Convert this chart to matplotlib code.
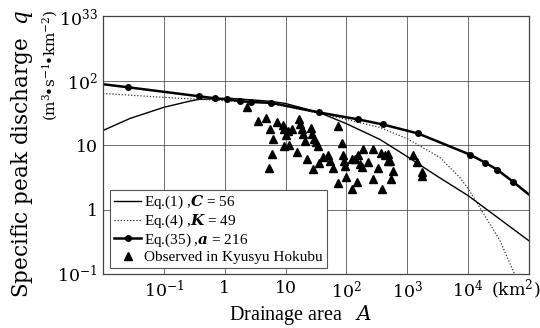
import numpy as np
import matplotlib
matplotlib.use("Agg")
import matplotlib.pyplot as plt

plt.rcParams['font.family'] = ['DejaVu Serif']
plt.rcParams['mathtext.fontset'] = 'dejavuserif'

# curves (drainage area km2, specific discharge)
eq1_area = [0.01, 0.0278, 0.1, 0.27, 0.38, 1.22, 5.8, 10, 35.4, 100, 355, 1000, 3000, 1e4, 1e5]
eq1_q = [16.8, 25.8, 38.4, 48, 51, 53, 47.5, 44, 32, 21.4, 12.2, 6.6, 3.35, 1.64, 0.327]

eq4_area = [0.01, 0.1, 0.38, 1.8, 5.8, 35.4, 100, 355, 1000, 3440, 7340, 1e4, 15700, 33300, 58900]
eq4_q = [63, 54.8, 51, 47, 44, 31, 25, 18.7, 12.5, 6.4, 3.12, 2.1, 1.06, 0.33, 0.096]

eq35_area = [0.01, 0.0258, 0.377, 0.69, 1.09, 1.78, 2.7, 5.8, 35.4, 155, 398, 1500,
             10700, 18900, 29800, 54600, 1e5]
eq35_q = [87.5, 78.5, 57, 53, 51, 48, 46.5, 45, 32, 25, 20.8, 15.1,
          7.1, 5.35, 4.16, 2.7, 1.70]

# observed basins, Kyusyu Hokubu
obs_area = [2.3, 3.5, 4.8, 5.5, 7.3, 6.1, 9.2, 9.5, 10.2, 11.1, 12.6, 9.5, 11.5,
            16.4, 17.3, 18.4, 19.6, 20.8, 26.2, 27.5, 29.6, 31.3, 34.5, 5.9, 5.3,
            15.6, 22.2, 28.5, 35.4, 41.7, 50.4, 53.7, 60.8, 73.4, 85.5, 88.8, 92.2,
            94.7, 97.2, 73.4, 122, 147, 122, 138, 157, 167, 189, 223, 276, 334, 370,
            430, 477, 488, 520, 576, 540, 276, 379, 1256, 1420, 1725, 1760, 178]
obs_q = [38.7, 23.2, 26.1, 17.4, 22.6, 12.5, 20.6, 17.4, 14.4, 16.2, 17.4, 9.8, 10.1,
         25.6, 21.4, 17.9, 14.9, 11.7, 18.2, 14.9, 12.5, 11.1, 9.8, 7.3, 4.4,
         7.7, 6.1, 4.3, 5.3, 6.5, 6.9, 5.7, 4.4, 19.6, 10.8, 6.9, 5.7,
         4.8, 3.2, 2.6, 2.1, 2.7, 6.1, 6.1, 6.9, 5.1, 8.7, 5.4, 8.7, 4.4, 7.6,
         6.9, 7.3, 5.7, 5.7, 4.0, 3.0, 3.0, 2.1, 6.9, 5.5, 3.8, 3.3, 4.5]

x_ticks = [0.1, 1, 10, 100, 1000, 1e4]
x_labels = [r"$10^{-1}$", "1", "10", r"$10^{2}$", r"$10^{3}$", r"$10^{4}$"]
y_ticks = [0.1, 1, 10, 100, 1000]
y_labels = [r"$10^{-1}$", "1", "10", r"$10^{2}$", r"$10^{33}$"]

fig = plt.figure(figsize=(5.4, 3.28), dpi=100)
ax = fig.add_axes([103/540, 1-274/328, 426/540, 258/328])

l1, = ax.plot(eq1_area, eq1_q, color='black', lw=1.0)
l4, = ax.plot(eq4_area, eq4_q, color='#333333', lw=0.9, ls=(0, (1, 1.5)))
l35, = ax.plot(eq35_area, eq35_q, color='black', lw=1.8, marker='o', ms=4,
               markevery=list(range(1, len(eq35_area)-1)))
lob, = ax.plot(obs_area, obs_q, ls='none', marker='^', ms=6, color='black')

ax.set_xscale('log')
ax.set_yscale('log')
ax.set_xlim(0.01, 1e5)
ax.set_ylim(0.1, 1000)
ax.minorticks_off()
ax.set_xticks(x_ticks)
ax.set_xticklabels(x_labels, fontsize=12.5)
ax.set_yticks(y_ticks)
ax.set_yticklabels(y_labels, fontsize=12.5)
ax.tick_params(length=0, pad=4)
ax.grid(True, color='#555555', lw=0.6)
for s in ax.spines.values():
	s.set_linestyle((0, (1, 1)))
	s.set_linewidth(0.9)
	s.set_color('#444444')

leg = ax.legend([l1, l4, l35, lob],
	[r"Eq.(1) ,$\mathbfit{C}$ = 56", r"Eq.(4) ,$\mathbfit{K}$ = 49",
	 r"Eq.(35) ,$\mathbfit{a}$ = 216", "Observed in Kyusyu Hokubu"],
	loc='lower left', bbox_to_anchor=(7/426, 6/258),
	prop={'family': 'Liberation Serif', 'size': 11},
	fancybox=False, framealpha=1, edgecolor='#555555', handlelength=1.8,
	handletextpad=0.2, borderpad=0.25, labelspacing=0.1, borderaxespad=0)
leg.get_frame().set_linewidth(0.8)

fig.text(516/540, 1-290/328, r"(km$^{2}$)", fontsize=12.5, ha='center', va='center')
fig.text(300/540, 1-315/328, r"Drainage area   $A$", fontsize=14.5, ha='center', va='center',
	family='Liberation Serif')
fig.text(22/540, 1-9/328, r"Specific peak discharge  $q$", fontsize=15.5, rotation=90,
	ha='center', va='top')
fig.text(50/540, 1-9/328, r"(m$^{3}\!$•s$^{-1}\!$•km$^{-2}$)", fontsize=11, rotation=90,
	ha='center', va='top')

fig.savefig("out.png", dpi=100)
